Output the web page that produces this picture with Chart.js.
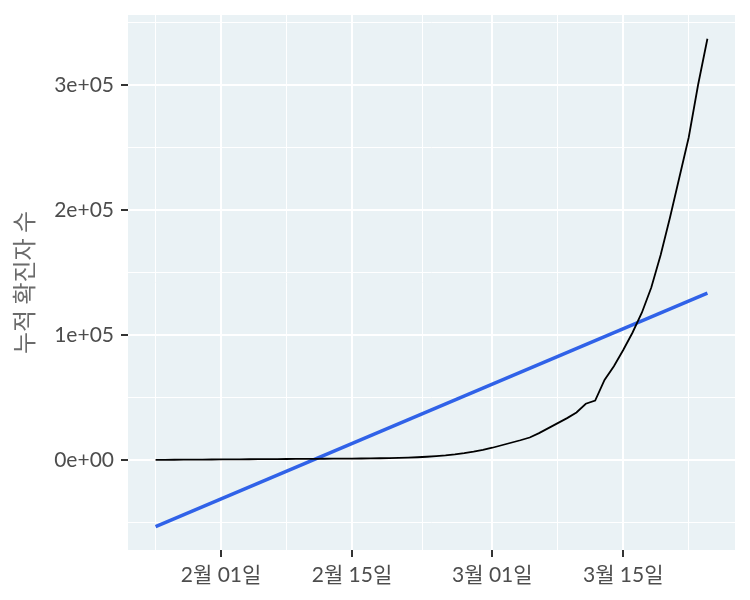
<!DOCTYPE html>
<html>
<head>
<meta charset="utf-8">
<script src="https://cdn.jsdelivr.net/npm/chart.js@4.4.1/dist/chart.umd.min.js"></script>
<style>
  html, body { margin: 0; padding: 0; background: #ffffff; }
  #wrap { width: 750px; height: 600px; }
</style>
</head>
<body>
<div id="wrap"><canvas id="chart" width="750" height="600"></canvas></div>
<script>
// day numbers count from 1 Jan 2020 = 0
const days = [24, 25, 26, 27, 28, 29, 30, 31, 32, 33, 34, 35, 36, 37, 38, 39, 40, 41, 42, 43,
              44, 45, 46, 47, 48, 49, 50, 51, 52, 53, 54, 55, 56, 57, 58, 59, 60, 61, 62, 63,
              64, 65, 66, 67, 68, 69, 70, 71, 72, 73, 74, 75, 76, 77, 78, 79, 80, 81, 82, 83];
const cumulative = [100, 150, 200, 250, 300, 350, 400, 450, 500, 550, 600, 650, 700, 750, 800, 850, 900, 950, 1000, 1050,
                    1100, 1150, 1200, 1300, 1400, 1500, 1700, 1900, 2200, 2600, 3100, 3700, 4500, 5500, 6700, 8100, 9800, 11800, 13800, 15800,
                    18000, 21500, 25500, 29500, 33500, 38000, 45000, 47500, 64000, 75000, 88000, 102000, 118000, 138000, 164000, 194000, 226000, 258000, 300000, 337000];

// fitted straight line, end points
const fitDays = [24, 83];
const fitValues = [-53300, 133500];

const xTickDays = [31, 45, 60, 74];
const xTickLabels = ['2월 01일', '2월 15일', '3월 01일', '3월 15일'];
const xMinorDays = [24, 38, 52.5, 67, 81];

const yTickValues = [0, 100000, 200000, 300000];
const yTickLabels = ['0e+00', '1e+05', '2e+05', '3e+05'];
const yMinorValues = [-50000, 50000, 150000, 250000, 350000];

const yTitle = '누적 확진자 수';

const tickFont = { family: "Lato, 'Noto Sans CJK KR', sans-serif", size: 21 };

const panelBg = {
    id: 'panelBg',
    beforeDraw(chart) {
        const a = chart.chartArea;
        const c = chart.ctx;
        c.save();
        c.fillStyle = '#EAF2F5';
        c.fillRect(a.left, a.top, a.right - a.left, a.bottom - a.top);
        c.restore();
    }
};

function isMajor(list, v) {
    return list.some(t => Math.abs(t - v) < 1e-6);
}

const ctx = document.getElementById('chart').getContext('2d');

new Chart(ctx, {
    type: 'line',
    data: {
        datasets: [
            {
                label: 'cumulative',
                data: days.map((d, i) => ({ x: d, y: cumulative[i] })),
                borderColor: '#000000',
                borderWidth: 1.8,
                pointRadius: 0,
                tension: 0,
                fill: false
            },
            {
                label: 'fit',
                data: fitDays.map((d, i) => ({ x: d, y: fitValues[i] })),
                borderColor: '#3062E8',
                borderWidth: 3.5,
                pointRadius: 0,
                tension: 0,
                fill: false
            }
        ]
    },
    options: {
        animation: false,
        responsive: false,
        plugins: { legend: { display: false }, tooltip: { enabled: false } },
        layout: { padding: { top: 15, right: 15, left: 0, bottom: 0 } },
        scales: {
            x: {
                type: 'linear',
                min: 21.05,
                max: 85.95,
                afterBuildTicks(scale) {
                    scale.ticks = xMinorDays.concat(xTickDays).sort((a, b) => a - b).map(v => ({ value: v }));
                },
                afterFit(scale) {
                    scale.height = 50;
                    scale.paddingLeft = 0;
                    scale.paddingRight = 0;
                },
                border: { display: false },
                grid: {
                    color: '#ffffff',
                    lineWidth: c => isMajor(xTickDays, c.tick.value) ? 2 : 1,
                    tickLength: 7,
                    tickWidth: 2,
                    tickColor: c => isMajor(xTickDays, c.tick.value) ? '#333333' : 'rgba(0,0,0,0)'
                },
                ticks: {
                    autoSkip: false,
                    maxRotation: 0,
                    padding: 6,
                    color: '#4D4D4D',
                    font: tickFont,
                    callback: v => {
                        const i = xTickDays.findIndex(t => Math.abs(t - v) < 1e-6);
                        return i >= 0 ? xTickLabels[i] : '';
                    }
                }
            },
            y: {
                type: 'linear',
                min: -72000,
                max: 356000,
                afterBuildTicks(scale) {
                    scale.ticks = yMinorValues.concat(yTickValues).sort((a, b) => a - b).map(v => ({ value: v }));
                },
                afterFit(scale) {
                    scale.width = 128;
                    scale.paddingTop = 0;
                    scale.paddingBottom = 0;
                },
                border: { display: false },
                grid: {
                    color: '#ffffff',
                    lineWidth: c => isMajor(yTickValues, c.tick.value) ? 2 : 1,
                    tickLength: 7,
                    tickWidth: 2,
                    tickColor: c => isMajor(yTickValues, c.tick.value) ? '#333333' : 'rgba(0,0,0,0)'
                },
                ticks: {
                    autoSkip: false,
                    padding: 7,
                    color: '#4D4D4D',
                    font: tickFont,
                    callback: v => {
                        const i = yTickValues.findIndex(t => Math.abs(t - v) < 1e-6);
                        return i >= 0 ? yTickLabels[i] : '';
                    }
                },
                title: {
                    display: true,
                    text: yTitle,
                    color: '#6B6B6B',
                    font: { family: "'Noto Sans CJK KR', Lato, sans-serif", size: 24 },
                    padding: { top: 9, bottom: 0 }
                }
            }
        }
    },
    plugins: [panelBg]
});
</script>
</body>
</html>
